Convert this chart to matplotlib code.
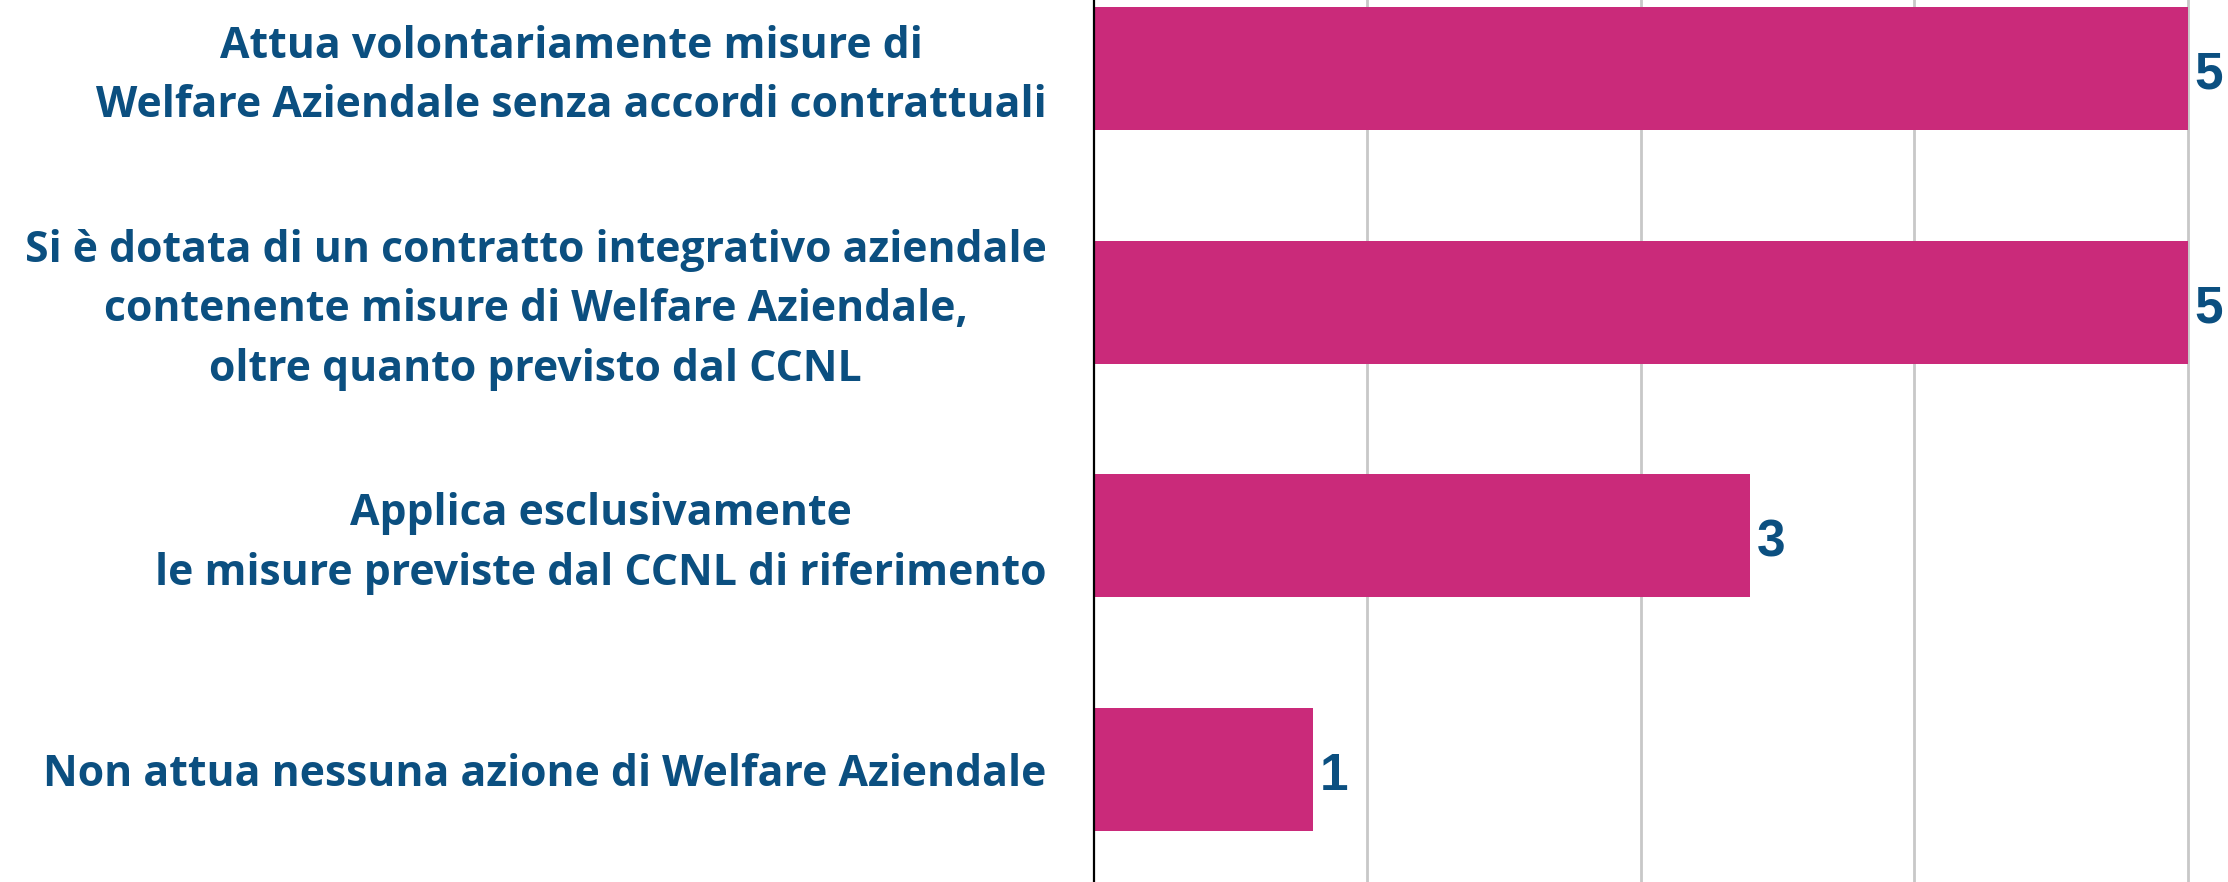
# Welfare aziendale: horizontal bar chart of company responses
import matplotlib
matplotlib.use("Agg")
import matplotlib.pyplot as plt
from matplotlib.transforms import ScaledTranslation

categories = [
    "Attua volontariamente misure di\nWelfare Aziendale senza accordi contrattuali",
    "Si è dotata di un contratto integrativo aziendale\ncontenente misure di Welfare Aziendale,\noltre quanto previsto dal CCNL",
    "Applica esclusivamente\nle misure previste dal CCNL di riferimento",
    "Non attua nessuna azione di Welfare Aziendale",
]
values = [5, 5, 3, 1]
grid_ticks = [1.25, 2.5, 3.75, 5]

BAR_COLOR = "#CA2A7A"
TEXT_COLOR = "#0B4F80"

def main():
    fig = plt.figure(figsize=(22.28, 8.82), dpi=100)
    ax = fig.add_axes([0.491, 0.0, 0.509, 1.0])

    y = list(range(len(categories)))
    ax.barh(y, values, height=0.526, color=BAR_COLOR, zorder=3)

    ax.set_ylim(3.481, -0.293)
    ax.set_xlim(0, 5.185)

    # value labels at the end of each bar
    for yi, v in zip(y, values):
        ax.annotate(str(v), xy=(v, yi), xytext=(5, -1), textcoords="offset points",
                    ha="left", va="center_baseline", fontsize=37, fontweight="bold",
                    family="Liberation Sans", color=TEXT_COLOR)

    ax.set_yticks(y)
    ax.set_yticklabels(categories)
    ax.tick_params(axis="y", length=0, pad=34)
    for lbl in ax.get_yticklabels():
        lbl.set_family("Open Sans")
        lbl.set_fontweight("bold")
        lbl.set_fontsize(30.8)
        lbl.set_color(TEXT_COLOR)
        lbl.set_multialignment("center")
        lbl.set_linespacing(1.5)
        # multi-line labels sit a little high in the original
        if "\n" in lbl.get_text():
            lbl.set_transform(lbl.get_transform() +
                              ScaledTranslation(0, 4 / 72, fig.dpi_scale_trans))

    ax.set_xticks(grid_ticks)
    ax.set_xticklabels([])
    ax.tick_params(axis="x", length=0)
    ax.grid(axis="x", color="#c8c8c8", linewidth=2, zorder=0)

    for side in ["top", "right", "bottom"]:
        ax.spines[side].set_visible(False)
    ax.spines["left"].set_linewidth(1.6)
    ax.spines["left"].set_color("black")
    ax.spines["left"].set_zorder(4)

    fig.savefig("out.png", dpi=100)
    plt.close(fig)

if __name__ == "__main__":
    main()
